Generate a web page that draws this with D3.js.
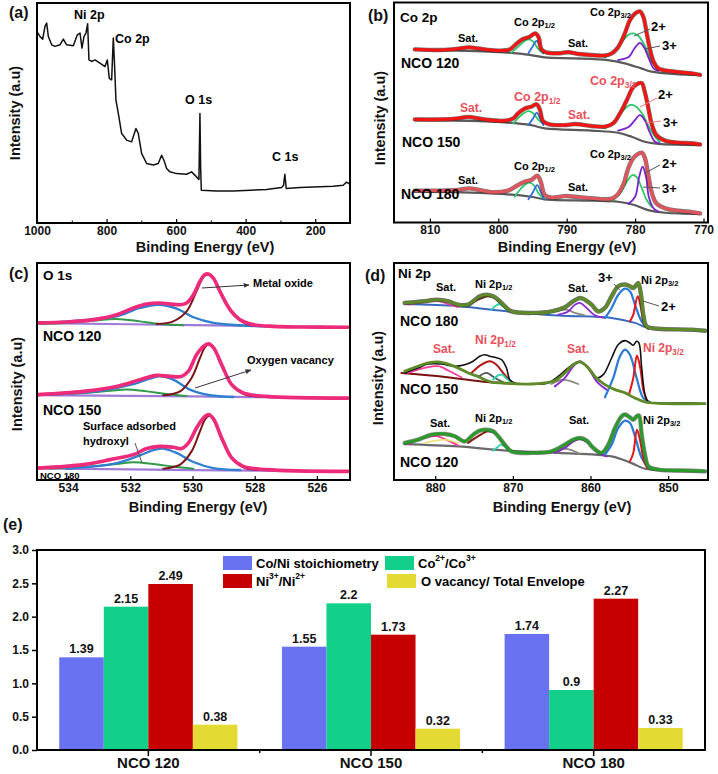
<!DOCTYPE html>
<html><head><meta charset="utf-8">
<script src="https://cdn.jsdelivr.net/npm/d3@7"></script>
<style>
body{margin:0;background:#fff;}
svg{display:block;font-family:Arial,"Liberation Sans",sans-serif;font-weight:bold;}
</style></head><body>
<svg id="c" width="718" height="774"></svg>
<script>
// ---------------- (a) survey ----------------
const surveyTicks = [1000, 800, 600, 400, 200];
const survey = [[997.1,86.3],[991.4,84.7],[983.7,83.5],[977,89.3],[972.2,90.8],[967.4,84.7],[957.8,80.9],[948.3,80.2],[933.9,80.9],[924.3,83.5],[914.7,80.9],[895.6,80.5],[884,85.5],[876.4,86.3],[870.7,79.4],[865,84.7],[859.2,86.3],[854.4,90.5],[850.6,74],[842.9,73.3],[833.3,74],[819,72.5],[804.6,71],[797.9,74],[792.1,65.6],[785.4,64.9],[780.6,84],[776.8,71],[773,55.7],[766.2,49.6],[756.7,40.5],[742.3,37.4],[727.9,36.6],[715.5,42.7],[708.8,40.5],[699.2,31.3],[684.8,26.7],[665.7,26],[651.3,26.7],[641.7,30.5],[635,28.2],[627.3,24.4],[617.8,22.9],[598.6,22.1],[569.9,21.8],[555.5,22.9],[541.1,20.6],[534.4,19.4],[531.5,49.6],[529.5,25],[527.5,14.5],[483.6,14.2],[435.7,14.2],[339.9,14.8],[296.8,15.7],[291,16.8],[287.3,21.8],[283.4,15.3],[244.1,15.7],[148.3,16.3],[119.6,16.8],[110,18.2],[100.4,17.3]];

// ---------------- (b) Co 2p ----------------
const coTicks = [810, 800, 790, 780, 770];
const co120Env = [[812.2,78.7],[808.3,78.4],[805.9,79.0],[804.4,79.6],[802.0,78.7],[800.0,78.1],[798.3,78.7],[797.3,81.4],[796.4,83.4],[795.4,84.5],[794.6,86.0],[794.1,84.2],[793.7,78.7],[793.0,77.3],[791.2,76.9],[789.8,77.4],[788.3,76.6],[786.4,76.1],[784.4,75.9],[783.4,76.9],[782.5,79.6],[781.5,86.0],[780.8,91.8],[780.0,95.1],[779.3,96.0],[778.8,93.6],[778.3,86.0],[777.8,78.4],[777.3,73.1],[776.6,70.0],[774.2,68.5],[771.7,67.7],[770.5,67.0]];
const co120Bg = [[812.2,78.4],[805.9,78.1],[798.6,77.2],[795.2,76.1],[793.2,75.0],[788.8,74.6],[784.0,73.8],[781.5,72.3],[779.1,70.0],[777.6,68.5],[774.2,67.4],[770.5,67.0]];
const co120A = [[798.1,77.2],[797.1,79.9],[796.1,82.6],[795.5,83.3],[794.9,82.2],[794.1,78.7],[793.4,76.9]];
const co120B = [[795.6,76.9],[795.0,79.9],[794.4,82.6],[793.9,79.9],[793.4,76.9]];
const co120C = [[784.4,75.0],[782.9,78.4],[781.9,82.2],[780.9,85.5],[780.2,86.0],[779.5,84.8],[778.5,79.9],[777.6,73.1],[776.6,69.3]];
const co120D = [[782.5,73.8],[780.9,75.3],[780.1,79.1],[779.3,81.7],[778.6,79.1],[778.0,74.6],[777.3,70.0],[776.6,68.9]];
const co150Env = [[812.2,46.7],[808.3,46.7],[805.9,47.2],[804.4,47.8],[802.0,46.7],[799.1,46.1],[797.8,47.2],[797.1,49.5],[796.1,51.7],[795.2,52.5],[794.4,53.6],[793.9,51.0],[793.5,46.1],[792.7,44.6],[790.3,44.1],[788.8,44.6],[786.4,43.7],[784.4,43.4],[783.2,44.9],[782.2,49.5],[781.2,55.6],[780.3,61.3],[779.5,63.2],[779.0,63.2],[778.6,59.4],[778.1,52.5],[777.6,44.9],[776.9,39.6],[775.6,37.0],[773.7,36.1],[771.7,35.8],[770.5,35.3]];
const co150Bg = [[812.2,46.4],[801,45.7],[795.2,44.1],[793.2,42.6],[786.4,41.6],[782.5,40.6],[780.5,38.8],[778.6,36.5],[776.6,35.5],[770.5,35.0]];
const co150A = [[797.8,44.9],[796.6,48.7],[795.6,50.5],[794.9,49.5],[794.1,46.4],[793.4,44.6]];
const co150B = [[795.6,44.1],[794.9,47.2],[794.4,49.8],[793.9,47.2],[793.4,44.1]];
const co150C = [[784.4,42.6],[782.9,46.4],[781.7,51.0],[780.7,53.3],[780.0,52.8],[779.0,49.5],[778.1,44.1],[777.1,38.8],[776.4,36.5]];
const co150D = [[782.5,41.6],[780.9,43.4],[780.1,46.1],[779.3,48.7],[778.6,46.4],[777.9,41.1],[777.1,36.5],[776.4,35.8]];
const co180Env = [[812.2,14.2],[808.3,14.2],[805.9,14.5],[804.2,15.2],[801.0,13.5],[798.6,14.2],[797.3,16.4],[796.1,18.3],[795.2,19.0],[794.3,21.0],[793.8,18.3],[793.2,12.2],[792.2,11.0],[790.3,11.7],[788.8,11.4],[786.4,10.7],[783.4,10.5],[782.5,12.6],[781.7,17.0],[781.0,24.4],[780.3,28.9],[779.5,31.1],[779.0,31.5],[778.6,29.4],[778.1,21.8],[777.6,13.7],[776.9,8.4],[775.6,6.1],[773.7,5.0],[771.7,4.4],[770.5,3.8]];
const co180Bg = [[812.2,13.7],[801,12.9],[795.2,11.4],[793.2,10.2],[786.4,9.6],[782.5,9.1],[780.1,7.6],[778.1,5.3],[775.6,4.1],[770.5,3.5]];
const co180A = [[797.6,11.4],[796.4,16.0],[795.5,17.8],[794.8,16.7],[794.1,12.9],[793.4,10.7]];
const co180B = [[795.6,10.2],[794.9,13.7],[794.3,16.7],[793.8,13.7],[793.3,10.2]];
const co180C = [[783.4,9.6],[782.2,12.9],[781.2,18.3],[780.4,21.3],[779.8,20.5],[779.0,15.2],[778.3,9.9],[777.6,6.8]];
const co180D = [[781.0,8.1],[780.0,11.4],[779.4,20.5],[778.9,25.1],[778.4,20.5],[778.0,11.4],[777.3,6.1],[776.6,4.6]];

// ---------------- (c) O 1s ----------------
const oTicks = [534, 532, 530, 528, 526];
const o120Env = [[534.96,72.5],[534.05,72.9],[533.19,74.0],[532.44,76.3],[531.90,79.4],[531.47,81.2],[531.10,81.7],[530.72,81.2],[530.40,80.9],[530.19,81.7],[529.97,85.5],[529.76,91.7],[529.60,94.8],[529.49,95.1],[529.33,93.2],[529.12,87.1],[528.79,78.6],[528.47,74.0],[528.04,71.7],[527.40,70.9],[526.54,70.6],[525.0,70.5]];
const o120Bg = [[535,72.4],[530,71.5],[525,70.5]];
const o120Blue = [[534.58,72.6],[533.51,73.8],[532.44,75.5],[531.69,79.4],[531.10,80.9],[530.51,79.1],[529.97,75.1],[529.33,72.5],[528.47,71.4],[527.62,70.9]];
const o120Brown = [[531.15,72.0],[530.62,73.2],[530.19,77.8],[529.87,87.1],[529.63,94.0],[529.49,94.8],[529.33,92.9],[529.06,85.5],[528.69,76.3],[528.26,72.0],[527.62,70.9]];
const o120Green = [[534.90,72.0],[534.05,72.5],[533.19,73.5],[532.44,74.3],[531.69,73.2],[531.05,72.0],[530.29,71.4]];
const o150Env = [[534.96,39.4],[533.51,40.9],[532.44,43.2],[531.69,46.3],[531.15,48.3],[530.72,47.8],[530.35,47.8],[530.13,50.2],[529.87,57.8],[529.65,61.7],[529.49,62.8],[529.33,61.2],[529.06,53.2],[528.74,44.0],[528.37,40.2],[527.62,38.6],[525.0,37.8]];
const o150Bg = [[535,39.2],[530,38.6],[525,37.8]];
const o150Blue = [[534.58,39.4],[532.97,41.2],[531.90,44.3],[531.37,46.8],[531.05,47.8],[530.62,46.3],[530.08,41.7],[529.44,39.1],[528.69,38.3]];
const o150Brown = [[530.94,39.1],[530.40,40.9],[530.03,47.1],[529.76,56.3],[529.60,61.2],[529.47,62.5],[529.31,60.6],[529.06,52.5],[528.69,43.2],[528.31,39.4],[527.62,38.5]];
const o150Green = [[534.90,39.4],[533.51,40.2],[532.65,41.2],[532.12,41.8],[531.47,40.9],[530.83,39.7],[530.19,38.8]];
const o180Env = [[534.96,5.5],[533.51,7.1],[532.65,9.4],[531.90,11.7],[531.47,14.5],[531.05,15.5],[530.62,15.1],[530.35,14.5],[530.13,17.1],[529.87,24.0],[529.65,28.6],[529.49,30.2],[529.33,28.3],[529.06,19.4],[528.74,10.2],[528.37,6.3],[527.62,4.8],[525.0,4.0]];
const o180Bg = [[535,5.3],[530,4.6],[525,3.8]];
const o180Blue = [[534.05,5.2],[532.44,7.8],[531.69,11.4],[531.21,14.0],[530.94,14.5],[530.51,12.5],[529.97,8.3],[529.33,5.5],[528.47,4.6]];
const o180Brown = [[530.94,5.2],[530.40,7.1],[530.03,13.2],[529.76,22.5],[529.60,27.8],[529.47,29.7],[529.31,27.5],[529.06,18.6],[528.69,9.4],[528.31,5.5],[527.62,4.6]];
const o180Green = [[534.58,5.2],[533.19,6.3],[532.44,7.4],[531.90,8.2],[531.26,7.4],[530.62,6.2],[529.97,5.2]];

// ---------------- (d) Ni 2p ----------------
const niTicks = [880, 870, 860, 850];
const ni180Env = [[883.92,81.7],[881.35,82.5],[879.84,83.2],[878.34,82.5],[877.05,80.9],[875.76,80.9],[875.11,82.5],[874.26,84.8],[873.40,85.5],[872.54,84.8],[871.89,83.2],[871.03,80.2],[870.17,77.8],[867.59,77.1],[865.02,77.8],[863.30,79.7],[862.22,82.5],[861.36,84.0],[860.72,83.2],[859.86,80.9],[859.00,77.8],[858.14,79.4],[857.28,84.8],[856.42,89.4],[855.56,90.2],[854.92,89.4],[854.49,88.6],[854.06,90.2],[853.84,90.9],[853.50,85.5],[853.20,76.3],[852.77,70.9],[851.27,69.8],[846.97,69.4],[845.25,68.9]];
const ni180Bg = [[883.92,81.2],[877.05,80.2],[870.60,77.8],[864.16,75.9],[857.28,74.8],[854.28,72.5],[852.56,70.2],[845.25,68.9]];
const ni180Blue = [[858.14,74.8],[857.28,79.4],[856.42,85.5],[855.56,88.3],[854.92,87.1],[854.28,80.9],[853.42,73.2],[852.56,69.8]];
const ni180Red = [[854.92,73.2],[854.49,76.3],[853.93,84.8],[853.50,79.4],[853.07,71.7],[852.56,69.8]];
const ni180Purple = [[864.16,76.3],[862.87,77.8],[862.01,80.9],[861.36,81.7],[860.50,79.4],[859.43,76.0],[858.14,74.8]];
const ni180Gray = [[866.28,76.3],[864.16,78.2],[863.08,78.6],[862.01,77.1],[860.72,76.0]];
const ni180Brown = [[875.76,80.6],[874.47,83.2],[873.18,84.8],[872.32,84.0],[871.46,80.9],[870.60,78.6]];
const ni180Teal = [[872.75,78.6],[872.11,80.6],[871.68,81.2],[871.03,79.4],[870.39,78.2]];
const ni180Pink = [[883.5,80.9],[881.35,82.2],[879.84,82.8],[878.34,81.2],[877.05,79.8]];
const ni150Env = [[883.92,50.2],[882.21,52.5],[880.92,54.0],[879.63,54.5],[878.34,53.5],[877.05,51.7],[875.76,49.4],[874.47,47.8],[873.61,46.3],[872.75,45.2],[871.46,44.8],[870.17,44.5],[867.59,44.3],[865.88,44.8],[864.59,45.8],[863.30,49.4],[862.22,53.2],[861.36,54.5],[860.50,52.5],[859.43,47.8],[858.14,44.0],[856.85,41.7],[855.56,40.2],[854.28,37.8],[852.98,36.0],[851.27,35.4],[845.25,35.2]];
const ni150Data = [[883.92,49.4],[882.21,51.7],[880.92,53.5],[879.20,53.5],[877.48,52.5],[876.19,53.2],[875.11,54.8],[874.26,57.1],[873.61,57.8],[872.97,57.1],[872.32,56.6],[871.46,55.5],[870.82,51.7],[870.39,46.3],[869.74,44.8],[867.59,44.3],[865.45,44.8],[864.16,47.8],[862.87,51.7],[861.58,54.5],[860.72,53.2],[859.86,50.2],[859.22,47.1],[858.36,48.6],[857.28,56.3],[856.42,62.5],[855.56,64.3],[854.92,63.2],[854.49,62.2],[854.06,64.0],[853.76,63.2],[853.41,51.7],[852.98,39.4],[852.55,36.0],[851.27,35.5],[846.97,35.5],[845.25,35.2]];
const ni150Red = [[855.05,39.4],[854.49,47.1],[854.02,57.5],[853.59,51.7],[853.16,40.9],[852.73,36.6]];
const ni150Blue = [[858.14,38.2],[857.07,47.1],[856.21,57.1],[855.56,60.2],[854.92,57.8],[854.06,47.1],[853.20,37.8],[852.34,36.0]];
const ni150Purple = [[864.59,43.2],[863.30,47.1],[862.22,52.5],[861.36,54.8],[860.29,51.7],[859.22,45.5],[857.93,41.7]];
const ni150Gray = [[865.02,44.3],[863.73,46.2],[862.66,45.8],[861.58,44.3]];
const ni150RedA = [[875.33,49.4],[874.04,53.2],[872.97,54.8],[872.11,53.2],[871.25,49.4],[870.39,45.8]];
const ni150DarkA = [[874.47,47.4],[873.40,49.4],[872.32,47.1],[871.25,45.2]];
const ni150Teal = [[872.54,46.3],[871.89,48.3],[871.38,48.6],[870.82,46.8],[870.17,45.2]];
const ni150Pink = [[883.5,49.4],[881.35,51.7],[879.63,52.5],[878.13,50.2],[876.62,47.4]];
const ni150Base = [[884.35,49.4],[879.20,47.8],[874.04,45.5],[870.60,44.6]];
const ni120Env = [[883.92,17.1],[882.21,18.6],[880.49,20.9],[878.77,21.2],[877.48,20.2],[876.19,17.8],[875.11,20.9],[874.26,22.8],[873.40,23.2],[872.54,22.5],[871.89,20.2],[871.03,16.3],[870.17,13.2],[867.59,12.5],[865.02,13.2],[863.30,16.3],[862.22,18.6],[861.36,19.4],[860.50,18.2],[859.64,14.8],[858.57,12.5],[857.71,16.3],[856.85,24.0],[855.99,29.4],[855.56,30.2],[854.92,28.9],[854.49,27.8],[854.06,29.4],[853.76,29.8],[853.41,20.9],[852.98,11.7],[852.55,6.3],[851.27,4.8],[846.97,4.3],[845.25,4.0]];
const ni120Bg = [[883.92,16.6],[877.05,15.5],[870.6,13.5],[864.16,12.5],[857.28,10.9],[854.7,7.8],[852.98,5.2],[845.25,4.0]];
const ni120Blue = [[858.14,11.7],[857.28,16.3],[856.42,24.0],[855.56,27.4],[854.92,26.3],[854.28,20.2],[853.41,10.2],[852.55,5.5]];
const ni120Red = [[854.92,8.6],[854.49,12.5],[854.02,23.2],[853.59,17.8],[853.16,9.4],[852.73,5.8]];
const ni120Purple = [[864.59,12.5],[863.30,14.8],[862.22,17.8],[861.36,18.9],[860.29,17.1],[859.22,13.2],[857.93,10.9]];
const ni120Gray = [[865.02,12.8],[863.73,14.5],[862.66,14.0],[861.36,12.0]];
const ni120Brown = [[875.76,17.1],[874.47,20.2],[873.18,22.5],[872.32,21.7],[871.46,18.2],[870.60,14.5]];
const ni120Teal = [[872.54,13.5],[871.89,15.5],[871.46,16.3],[870.82,14.8],[870.17,13.2]];
const ni120Pink = [[883.5,16.6],[881.35,19.4],[879.84,20.2],[878.34,18.2],[877.05,16.0]];
const ni120Yellow = [[881.35,17.1],[878.77,18.6],[877.05,17.1]];

// ---------------- (e) bars ----------------
const groups = ["NCO 120", "NCO 150", "NCO 180"];
const seriesKeys = ["coNi", "co23", "ni32", "oVac"];
const coNi = [1.39, 1.55, 1.74];
const co23 = [2.15, 2.2, 0.9];
const ni32 = [2.49, 1.73, 2.27];
const oVac = [0.38, 0.32, 0.33];
const barTicks = [0, 0.5, 1.0, 1.5, 2.0, 2.5, 3.0];

// ================= drawing =================
const svg = d3.select("#c");
const FONT = 'Arial, "Liberation Sans", sans-serif';

function text(g, x, y, s, size, color, anchor) {
  return g.append("text").attr("x", x).attr("y", y).attr("font-size", size)
    .attr("fill", color || "#000").attr("text-anchor", anchor || "start")
    .attr("dominant-baseline", "central").text(s);
}
function subText(g, x, y, main, sub, size, color) {
  const t = g.append("text").attr("x", x).attr("y", y).attr("font-size", size)
    .attr("fill", color || "#000").attr("dominant-baseline", "central");
  t.append("tspan").text(main);
  t.append("tspan").attr("font-size", size * 0.68).attr("dy", size * 0.3).text(sub);
  return t;
}
function seg(g, x1, y1, x2, y2, color, w) {
  g.append("line").attr("x1", x1).attr("y1", y1).attr("x2", x2).attr("y2", y2)
    .attr("stroke", color).attr("stroke-width", w || 1);
}

let clipN = 0;
function makePanel(cfg) {
  const g = svg.append("g");
  const x = d3.scaleLinear().domain(cfg.xd).range(cfg.xr);
  const y = d3.scaleLinear().domain([0, 100]).range(cfg.yr);
  const id = "clip" + (clipN++);
  svg.append("clipPath").attr("id", id).append("rect")
    .attr("x", cfg.f[0]).attr("y", cfg.f[1]).attr("width", cfg.f[2] - cfg.f[0]).attr("height", cfg.f[3] - cfg.f[1]);
  const plot = g.append("g").attr("clip-path", `url(#${id})`);
  const ax = g.append("g").attr("transform", `translate(0,${cfg.f[3]})`)
    .call(d3.axisBottom(x).tickValues(cfg.ticks).tickSize(-4).tickPadding(3).tickFormat(d3.format("d")));
  ax.select(".domain").remove();
  ax.selectAll("line").attr("stroke", "#000").attr("stroke-width", 1.2);
  ax.selectAll("text").attr("font-size", 12).attr("font-family", FONT).attr("font-weight", "bold").attr("fill", "#111");
  if (cfg.minor) {
    const am = g.append("g").attr("transform", `translate(0,${cfg.f[3]})`)
      .call(d3.axisBottom(x).tickValues(cfg.minor).tickSize(-2.5).tickFormat(""));
    am.select(".domain").remove();
  }
  g.append("rect").attr("x", cfg.f[0]).attr("y", cfg.f[1]).attr("width", cfg.f[2] - cfg.f[0]).attr("height", cfg.f[3] - cfg.f[1])
    .attr("fill", "none").attr("stroke", "#000").attr("stroke-width", 2);
  text(g, cfg.title[0], cfg.title[1], "Binding Energy (eV)", 14.5, "#111", "middle");
  text(g, 0, 0, "Intensity (a.u)", 14.5, "#111", "middle")
    .attr("transform", `translate(${cfg.ytitle[0]},${cfg.ytitle[1]}) rotate(-90)`);
  text(g, cfg.letter[0], cfg.letter[1], cfg.letter[2], 16, "#111");
  return { g, plot, x, y };
}
const smooth = d3.curveCatmullRom.alpha(0.5);
function ln(p, data, color, w, curve, op) {
  p.plot.append("path").datum(data)
    .attr("d", d3.line().x(d => p.x(d[0])).y(d => p.y(d[1])).curve(curve || smooth))
    .attr("fill", "none").attr("stroke", color).attr("stroke-width", w)
    .attr("stroke-linejoin", "round").attr("stroke-linecap", "round").attr("opacity", op == null ? 1 : op);
}

// ----- panel a -----
const pa = makePanel({ xd: [1000, 100], xr: [37, 350], yr: [222, 3], f: [37, 3, 350, 223],
  ticks: surveyTicks, minor: [900, 700, 500, 300, 100], title: [205, 247], ytitle: [15, 113], letter: [9, 12, "(a)"] });
ln(pa, survey, "#111", 1.5, d3.curveLinear);
text(pa.g, 74, 15, "Ni 2p", 12.5);
text(pa.g, 115, 39, "Co 2p", 12.5);
text(pa.g, 185, 100, "O 1s", 12.5);
text(pa.g, 272, 157, "C 1s", 12.5);

// ----- panel b -----
const pb = makePanel({ xd: [815.2, 769.3], xr: [394.3, 708.3], yr: [221.7, 2.7], f: [394, 2.5, 708, 222.5],
  ticks: coTicks, title: [567, 247], ytitle: [380, 118], letter: [368, 15, "(b)"] });
const coGreen = "#2ec76a", coBlue = "#2f6fd6", coPurple = "#7a22cc", coGray = "#5a5a5a";
[[co120Env, co120Bg, co120A, co120B, co120C, co120D, "#f31414"],
 [co150Env, co150Bg, co150A, co150B, co150C, co150D, "#f31414"],
 [co180Env, co180Bg, co180A, co180B, co180C, co180D, "#e0545c"]].forEach(s => {
  ln(pb, s[1], coGray, 2.2);
  ln(pb, s[2], coGreen, 1.8);
  ln(pb, s[3], coBlue, 1.8);
  ln(pb, s[4], coGreen, 1.8);
  ln(pb, s[5], coPurple, 1.8);
  ln(pb, s[0], "#222", 4.4, smooth, 0.6);
  ln(pb, s[0], s[6], 3.2);
});
const redLbl = "#e8505a";
text(pb.g, 400, 17, "Co 2p", 13.5);
text(pb.g, 401, 63, "NCO 120", 14);
text(pb.g, 402, 142, "NCO 150", 14);
text(pb.g, 401, 194, "NCO 180", 14);
// NCO 120 labels
text(pb.g, 458, 38, "Sat.", 11);
text(pb.g, 568, 43, "Sat.", 11);
subText(pb.g, 514, 22, "Co 2p", "1/2", 11);
subText(pb.g, 590, 12, "Co 2p", "3/2", 11);
text(pb.g, 651, 26, "2+", 13);
text(pb.g, 662, 45, "3+", 13);
seg(pb.g, 650, 29, 634, 36, "#555", 1);
seg(pb.g, 660, 46, 645, 49, "#555", 1);
// NCO 150 labels
text(pb.g, 460, 108, "Sat.", 12, redLbl);
text(pb.g, 568, 115, "Sat.", 12, redLbl);
subText(pb.g, 514, 97, "Co 2p", "1/2", 12.5, redLbl);
subText(pb.g, 590, 81, "Co 2p", "3/2", 12.5, redLbl);
text(pb.g, 658, 94, "2+", 13);
text(pb.g, 663, 122, "3+", 13);
seg(pb.g, 657, 98, 640, 107, "#e77", 1);
seg(pb.g, 661, 121, 645, 123, "#e77", 1);
// NCO 180 labels
text(pb.g, 458, 180, "Sat.", 11);
text(pb.g, 568, 187, "Sat.", 11);
subText(pb.g, 514, 166, "Co 2p", "1/2", 11);
subText(pb.g, 590, 154, "Co 2p", "3/2", 11);
text(pb.g, 662, 163, "2+", 13);
text(pb.g, 662, 188, "3+", 13);
seg(pb.g, 660, 165, 645, 173, "#555", 1);
seg(pb.g, 660, 188, 643, 187, "#555", 1);

// ----- panel c -----
const pc = makePanel({ xd: [535, 525], xr: [37, 348], yr: [480, 263.3], f: [37, 263, 350, 480],
  ticks: oTicks, title: [198, 507], ytitle: [17, 384], letter: [9, 273, "(c)"] });
[[o120Env, o120Bg, o120Blue, o120Brown, o120Green],
 [o150Env, o150Bg, o150Blue, o150Brown, o150Green],
 [o180Env, o180Bg, o180Blue, o180Brown, o180Green]].forEach(s => {
  ln(pc, s[1], "#a07ad8", 2.2);
  ln(pc, s[4], "#2e9a4a", 2);
  ln(pc, s[2], "#2f80d0", 2.4);
  ln(pc, s[3], "#7a1418", 2);
  ln(pc, s[0], "#ee2a7b", 3.6);
});
const defs = svg.append("defs");
defs.append("marker").attr("id", "arr").attr("viewBox", "0 0 10 10").attr("refX", 9).attr("refY", 5)
  .attr("markerWidth", 6).attr("markerHeight", 6).attr("orient", "auto")
  .append("path").attr("d", "M0,1 L10,5 L0,9 Z").attr("fill", "#333");
text(pc.g, 43, 275, "O 1s", 13.5);
text(pc.g, 43, 336, "NCO 120", 14);
text(pc.g, 43, 410, "NCO 150", 14);
text(pc.g, 40, 475, "NCO 180", 9.5);
text(pc.g, 253, 283, "Metal oxide", 11);
text(pc.g, 247, 360, "Oxygen vacancy", 11);
text(pc.g, 83, 426, "Surface adsorbed", 11);
text(pc.g, 83, 441, "hydroxyl", 11);
pc.g.append("line").attr("x1", 202).attr("y1", 288).attr("x2", 249).attr("y2", 285).attr("stroke", "#333").attr("stroke-width", 1).attr("marker-end", "url(#arr)");
pc.g.append("line").attr("x1", 195).attr("y1", 388).attr("x2", 251).attr("y2", 370).attr("stroke", "#334").attr("stroke-width", 1).attr("marker-end", "url(#arr)");
seg(pc.g, 135, 443, 142, 463, "#555", 1);

// ----- panel d -----
const pd = makePanel({ xd: [885.3, 845], xr: [394, 707], yr: [480, 263.3], f: [394, 263, 708, 480],
  ticks: niTicks, title: [562, 507], ytitle: [378, 378], letter: [365, 275, "(d)"] });
const nBlue = "#2a7ad8", nRed = "#e0181c", nPurple = "#8a2ad0", nGray = "#8a8a80", nBrown = "#6a2a1a", nTeal = "#2ad0b0", nPink = "#ff3a9a";
// NCO 180
ln(pd, ni180Bg, "#3a6ac0", 2);
ln(pd, ni180Pink, nPink, 1.8);
ln(pd, ni180Brown, nBrown, 1.8);
ln(pd, ni180Teal, nTeal, 1.8);
ln(pd, ni180Gray, nGray, 1.8);
ln(pd, ni180Purple, nPurple, 1.8);
ln(pd, ni180Blue, nBlue, 2.2);
ln(pd, ni180Red, nRed, 2);
ln(pd, ni180Env, "#333", 4.4, smooth, 0.7);
ln(pd, ni180Env, "#5e8a28", 3);
// NCO 150
ln(pd, ni150Base, "#7a1010", 2);
ln(pd, ni150Pink, nPink, 1.8);
ln(pd, ni150DarkA, "#555", 1.8);
ln(pd, ni150RedA, "#b01818", 2);
ln(pd, ni150Teal, nTeal, 1.8);
ln(pd, ni150Gray, nGray, 1.8);
ln(pd, ni150Purple, nPurple, 2);
ln(pd, ni150Blue, nBlue, 2.2);
ln(pd, ni150Red, nRed, 2);
ln(pd, ni150Data, "#111", 1.6);
ln(pd, ni150Env, "#5e8a28", 2.8);
// NCO 120
ln(pd, ni120Bg, "#6a6a6a", 2.2);
ln(pd, ni120Pink, nPink, 1.8);
ln(pd, ni120Yellow, "#e8e070", 1.6);
ln(pd, ni120Brown, "#8a1a10", 2);
ln(pd, ni120Teal, nTeal, 1.8);
ln(pd, ni120Gray, nGray, 1.8);
ln(pd, ni120Purple, nPurple, 2);
ln(pd, ni120Blue, nBlue, 2.2);
ln(pd, ni120Red, nRed, 2);
ln(pd, ni120Env, "#444", 4.4, smooth, 0.6);
ln(pd, ni120Env, "#2a9a2a", 3);

text(pd.g, 398, 273, "Ni 2p", 13.5);
text(pd.g, 400, 321, "NCO 180", 14);
text(pd.g, 400, 389, "NCO 150", 14);
text(pd.g, 400, 462, "NCO 120", 14);
text(pd.g, 436, 287, "Sat.", 11);
subText(pd.g, 475, 284, "Ni 2p", "1/2", 11);
text(pd.g, 568, 288, "Sat.", 11);
text(pd.g, 598, 277, "3+", 13);
subText(pd.g, 641, 280, "Ni 2p", "3/2", 11);
text(pd.g, 661, 306, "2+", 13);
seg(pd.g, 643, 301, 659, 306, "#555", 1);
seg(pd.g, 614, 284, 620, 290, "#555", 1);
text(pd.g, 433, 349, "Sat.", 12, redLbl);
subText(pd.g, 475, 340, "Ni 2p", "1/2", 12, redLbl);
text(pd.g, 567, 349, "Sat.", 12, redLbl);
subText(pd.g, 643, 348, "Ni 2p", "3/2", 12, redLbl);
text(pd.g, 430, 423, "Sat.", 11);
subText(pd.g, 475, 418, "Ni 2p", "1/2", 11);
text(pd.g, 569, 420, "Sat.", 11);
subText(pd.g, 643, 420, "Ni 2p", "3/2", 11);

// ----- panel e -----
const ge = svg.append("g");
const ex0 = d3.scaleBand().domain(groups).range([37, 705]).paddingInner(0).paddingOuter(0);
const ex1 = d3.scaleBand().domain(seriesKeys).range([0, ex0.bandwidth()]).paddingInner(0).paddingOuter(0.5);
const ey = d3.scaleLinear().domain([0, 3]).range([750, 550]);
const seriesVals = { coNi, co23, ni32, oVac };
const seriesCol = { coNi: "#6872f0", co23: "#12cf8a", ni32: "#c60000", oVac: "#e4da34" };
seriesKeys.forEach(k => {
  groups.forEach((gname, i) => {
    const v = seriesVals[k][i];
    const bx = ex0(gname) + ex1(k);
    ge.append("rect").attr("x", bx).attr("y", ey(v)).attr("width", ex1.bandwidth()).attr("height", ey(0) - ey(v))
      .attr("fill", seriesCol[k]);
    text(ge, bx + ex1.bandwidth() / 2, ey(v) - 8, String(v), 12.5, "#111", "middle");
  });
});
const eyAxis = ge.append("g").attr("transform", "translate(37,0)")
  .call(d3.axisLeft(ey).tickValues(barTicks).tickSize(5).tickPadding(3).tickFormat(d3.format(".1f")));
eyAxis.select(".domain").remove();
eyAxis.selectAll("line").attr("stroke", "#000").attr("stroke-width", 1.5);
eyAxis.selectAll("text").attr("font-size", 12).attr("font-family", FONT).attr("font-weight", "bold").attr("fill", "#111");
const exAxis = ge.append("g").attr("transform", "translate(0,750)")
  .call(d3.axisBottom(ex0).tickSize(6).tickPadding(1));
exAxis.select(".domain").remove();
exAxis.selectAll("line").attr("stroke", "#000").attr("stroke-width", 1.5);
exAxis.selectAll("text").attr("font-size", 15).attr("font-family", FONT).attr("font-weight", "bold").attr("fill", "#111");
groups.slice(1).forEach(gname => seg(ge, ex0(gname), 750, ex0(gname), 753, "#000", 1.5));
ge.append("rect").attr("x", 37).attr("y", 550).attr("width", 668).attr("height", 200)
  .attr("fill", "none").attr("stroke", "#000").attr("stroke-width", 2);
text(ge, 3, 524, "(e)", 16, "#111");
// legend
function legSw(x, y, col) { ge.append("rect").attr("x", x).attr("y", y).attr("width", 29).attr("height", 14).attr("fill", col); }
legSw(223, 556, seriesCol.coNi);
text(ge, 256, 563, "Co/Ni stoichiometry", 13);
legSw(385, 556, seriesCol.co23);
const t2 = ge.append("text").attr("x", 418).attr("y", 563).attr("font-size", 13).attr("dominant-baseline", "central");
t2.append("tspan").text("Co"); t2.append("tspan").attr("font-size", 8.5).attr("dy", -5).text("2+");
t2.append("tspan").attr("dy", 5).text("/Co"); t2.append("tspan").attr("font-size", 8.5).attr("dy", -5).text("3+");
legSw(223, 574, seriesCol.ni32);
const t3 = ge.append("text").attr("x", 256).attr("y", 581).attr("font-size", 13).attr("dominant-baseline", "central");
t3.append("tspan").text("Ni"); t3.append("tspan").attr("font-size", 8.5).attr("dy", -5).text("3+");
t3.append("tspan").attr("dy", 5).text("/Ni"); t3.append("tspan").attr("font-size", 8.5).attr("dy", -5).text("2+");
legSw(387, 574, seriesCol.oVac);
text(ge, 421, 581, "O vacancy/ Total Envelope", 13);
</script>
</body></html>
